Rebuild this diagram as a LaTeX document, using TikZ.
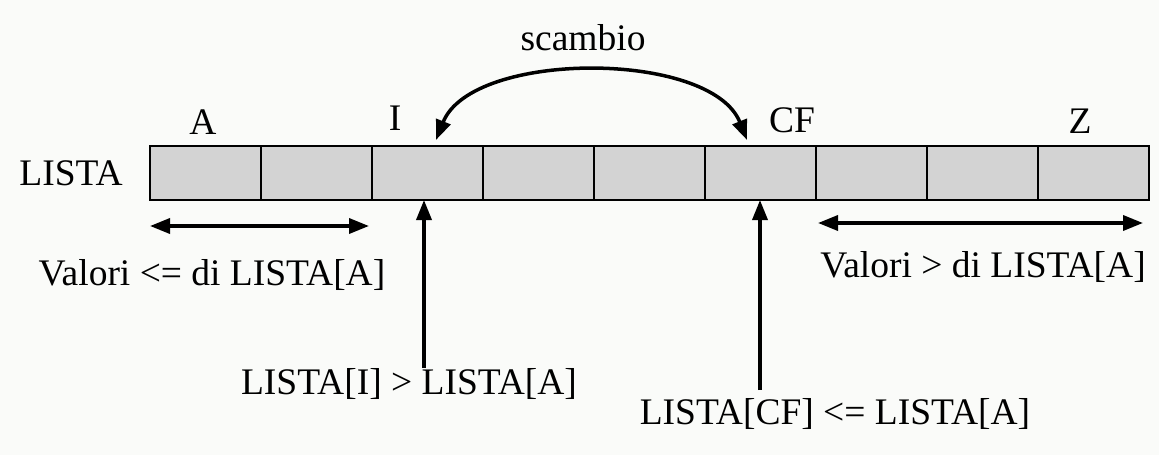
\documentclass[tikz,border=0pt]{standalone}
\usepackage{fontspec}
\setmainfont{Liberation Serif}
\usetikzlibrary{arrows.meta}
\definecolor{bg}{RGB}{250,251,249}
\definecolor{cellgray}{RGB}{211,211,211}
\tikzset{
  cell/.style={draw=black, line width=2pt, fill=cellgray, minimum width=111pt, minimum height=54pt, inner sep=0pt, outer sep=0pt},
  lbl/.style={font=\fontsize{37.5}{42}\selectfont, inner sep=0pt},
  tip/.style={},
  arr/.style={line width=3.5pt, -{Triangle[length=20pt,width=15pt]}},
  darr/.style={line width=3.5pt, {Triangle[length=20pt,width=15pt]}-{Triangle[length=20pt,width=15pt]}},
}
\begin{document}
\begin{tikzpicture}[x=1pt,y=-1pt]
\fill[bg] (0,0) rectangle (1159,455);
\useasboundingbox (0,0) rectangle (1159,455);
\foreach \i in {0,...,8} {
  \node[cell] (c\i) at ({150+111*\i+55.5},173) {};
}
\node[lbl] (lista) at (71,173) {LISTA};
\node[lbl] (A) at (203,122) {A};
\node[lbl] (I) at (395,118) {I};
\node[lbl] (CF) at (792,120) {CF};
\node[lbl] (Z) at (1080,121) {Z};
\node[lbl] (scambio) at (583,38) {scambio};
% swap arc
\coordinate (sI) at (436,140);
\coordinate (sCF) at (747,140);
\draw[darr] (sI) .. controls (472,50) and (711,50) .. (sCF);
% ranges
\coordinate (l1) at (150,226);
\coordinate (l2) at (369,226);
\draw[darr] (l1) -- (l2);
\node[lbl] (vle) at (212,275) {Valori <= di LISTA[A]};
\coordinate (r1) at (818,223);
\coordinate (r2) at (1143,223);
\draw[darr] (r1) -- (r2);
\node[lbl] (vgt) at (983,267) {Valori > di LISTA[A]};
% pointers
\node[lbl] (ci) at (409,384) {LISTA[I] > LISTA[A]};
\node[lbl] (ccf) at (835,414) {LISTA[CF] <= LISTA[A]};
\coordinate (pI) at (424,368);
\coordinate (pCF) at (760,390);
\draw[arr] (pI) -- (pI |- c2.south);
\draw[arr] (pCF) -- (pCF |- c5.south);
\end{tikzpicture}
\end{document}
